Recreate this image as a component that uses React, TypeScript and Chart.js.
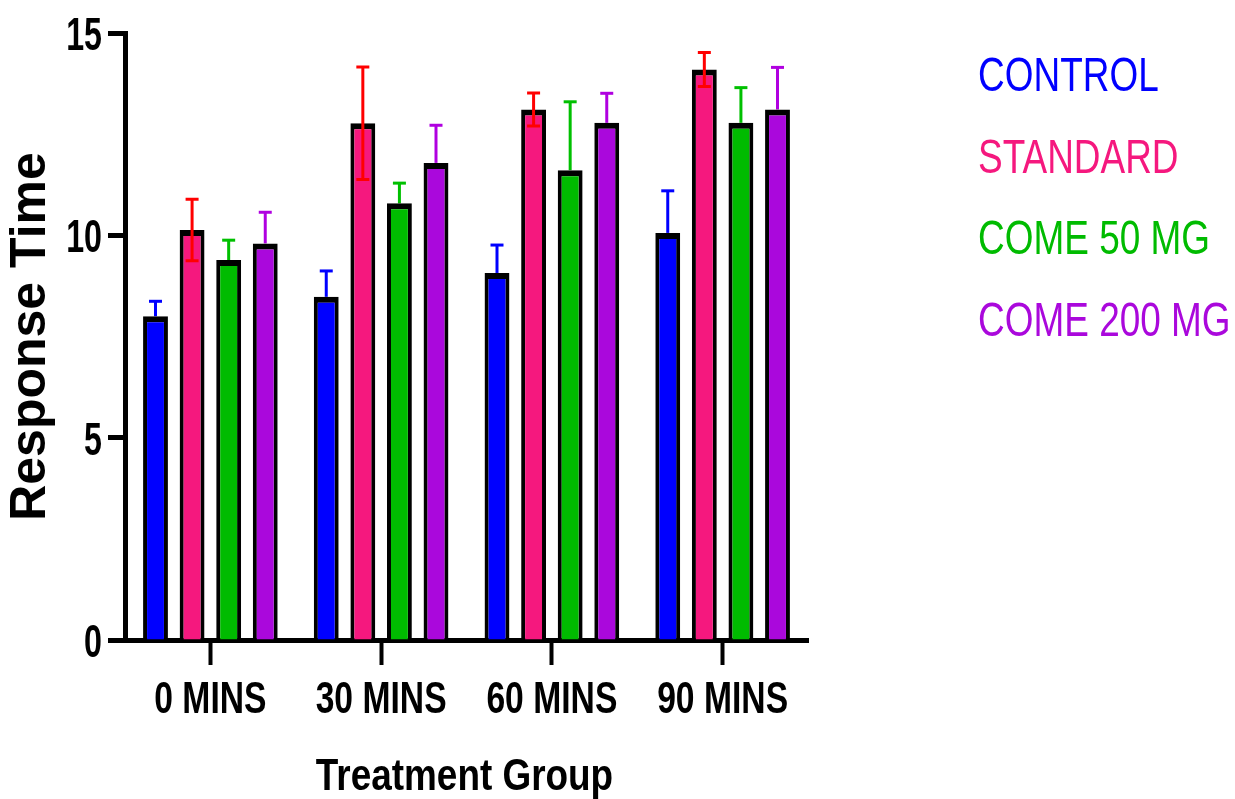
import React, { useEffect, useRef } from "react";
import { Chart, registerables } from "chart.js";

Chart.register(...registerables);

const categories = ["0 MINS", "30 MINS", "60 MINS", "90 MINS"];
const seriesNames = ["CONTROL", "STANDARD", "COME 50 MG", "COME 200 MG"];
const control = [8.0, 8.48, 9.07, 10.06];
const controlErr = [0.37, 0.64, 0.69, 1.04];
const standard = [10.13, 12.77, 13.11, 14.1];
const standardErr = [0.76, 1.39, 0.41, 0.42];
const come50 = [9.39, 10.79, 11.61, 12.78];
const come50Err = [0.49, 0.5, 1.69, 0.87];
const come200 = [9.8, 11.79, 12.78, 13.11];
const come200Err = [0.77, 0.93, 0.73, 1.04];
const yTicks = [0, 5, 10, 15];
const xTitle = "Treatment Group";
const yTitle = "Response Time";

const fillColors = ["#0000FF", "#F5187E", "#00BB00", "#AA08DC"];
const errColors = ["#0000FF", "#FF0000", "#00C000", "#B000E0"];
const legendColors = ["#0000FF", "#F5187E", "#00BB00", "#AA08DC"];

const SANS = "'Liberation Sans', Arial, sans-serif";

const values = [control, standard, come50, come200];
const errors = [controlErr, standardErr, come50Err, come200Err];

function drawErrors(chart: any, front: boolean) {
  const ctx = chart.ctx;
  const yScale = chart.scales.y;
  chart.data.datasets.forEach((_ds: any, i: number) => {
    const isFront = i === 1;
    if (isFront !== front) return;
    const meta = chart.getDatasetMeta(i);
    meta.data.forEach((el: any, j: number) => {
      const v = values[i][j];
      const e = errors[i][j];
      const x = el.x;
      const yTop = yScale.getPixelForValue(v + e);
      const yBot = front ? yScale.getPixelForValue(v - e) : yScale.getPixelForValue(v);
      ctx.save();
      ctx.strokeStyle = errColors[i];
      ctx.lineWidth = 3;
      ctx.beginPath();
      ctx.moveTo(x, yBot);
      ctx.lineTo(x, yTop);
      ctx.stroke();
      ctx.beginPath();
      ctx.moveTo(x - 6.5, yTop);
      ctx.lineTo(x + 6.5, yTop);
      if (front) {
        ctx.moveTo(x - 6.5, yBot);
        ctx.lineTo(x + 6.5, yBot);
      }
      ctx.stroke();
      ctx.restore();
    });
  });
}

const errorPlugin = {
  id: "errorBars",
  beforeDatasetsDraw(chart: any) {
    drawErrors(chart, false);
  },
  afterDatasetsDraw(chart: any) {
    drawErrors(chart, true);
  },
};

function narrowText(ctx: any, text: string, x: number, y: number, font: string, sx: number, align: string, color: string) {
  ctx.save();
  ctx.font = font;
  ctx.fillStyle = color;
  ctx.textAlign = align;
  ctx.textBaseline = "alphabetic";
  ctx.translate(x, y);
  ctx.scale(sx, 1);
  ctx.fillText(text, 0, 0);
  ctx.restore();
}

const textPlugin = {
  id: "narrowTexts",
  afterDraw(chart: any) {
    const ctx = chart.ctx;
    const xs = chart.scales.x;
    const ys = chart.scales.y;
    const area = chart.chartArea;
    categories.forEach((lab, i) => {
      narrowText(ctx, lab, xs.getPixelForTick(i), 713, `bold 44px ${SANS}`, 0.765, "center", "#000");
    });
    yTicks.forEach((v) => {
      narrowText(ctx, String(v), 102, ys.getPixelForValue(v) + 17, `bold 46px ${SANS}`, 0.7, "right", "#000");
    });
    narrowText(ctx, xTitle, (area.left + area.right) / 2 - 2, 790, `bold 45px ${SANS}`, 0.82, "center", "#000");
    ctx.save();
    ctx.font = `bold 50px ${SANS}`;
    ctx.fillStyle = "#000";
    ctx.textAlign = "center";
    ctx.textBaseline = "middle";
    ctx.translate(31, (area.top + area.bottom) / 2);
    ctx.rotate(-Math.PI / 2);
    ctx.fillText(yTitle, 0, 0);
    ctx.restore();
    seriesNames.forEach((name, i) => {
      narrowText(ctx, name, 978, 91 + i * 81.5, `48px ${SANS}`, 0.77, "left", legendColors[i]);
    });
  },
};

export default function App() {
  const ref = useRef<HTMLCanvasElement | null>(null);
  useEffect(() => {
    if (!ref.current) return;
    const chart = new Chart(ref.current, {
      type: "bar",
      data: {
        labels: categories,
        datasets: seriesNames.map((name, i) => ({
          label: name,
          data: values[i],
          backgroundColor: fillColors[i],
          borderColor: "#000000",
          borderWidth: { top: 6, left: 4, right: 4, bottom: 0 },
          borderSkipped: "start",
          barPercentage: 0.68,
          categoryPercentage: 0.857,
        })),
      },
      options: {
        animation: false,
        responsive: false,
        layout: { padding: { top: 33, right: 427, bottom: 0, left: 0 } },
        plugins: {
          legend: { display: false },
          tooltip: { enabled: false },
        },
        scales: {
          x: {
            grid: {
              display: true,
              drawOnChartArea: false,
              drawTicks: true,
              offset: false,
              tickLength: 25,
              tickWidth: 4,
              tickColor: "#000",
            },
            border: { display: true, color: "#000", width: 5 },
            ticks: { display: false },
            title: { display: false },
            afterFit(scale: any) {
              scale.height = 159;
            },
          },
          y: {
            min: 0,
            max: 15,
            afterBuildTicks(scale: any) {
              scale.ticks = yTicks.map((v) => ({ value: v }));
            },
            grid: {
              display: true,
              drawOnChartArea: false,
              drawTicks: true,
              tickLength: 17,
              tickWidth: 5,
              tickColor: "#000",
            },
            border: { display: true, color: "#000", width: 5 },
            ticks: { display: false },
            title: { display: false },
            afterFit(scale: any) {
              scale.width = 125;
            },
          },
        },
      },
      plugins: [errorPlugin, textPlugin],
    });
    return () => chart.destroy();
  }, []);
  return (
    <div style={{ position: "fixed", left: 0, top: 0, width: 1235, height: 799, background: "#fff" }}>
      <canvas ref={ref} width={1235} height={799} style={{ width: 1235, height: 799, display: "block" }} />
    </div>
  );
}
